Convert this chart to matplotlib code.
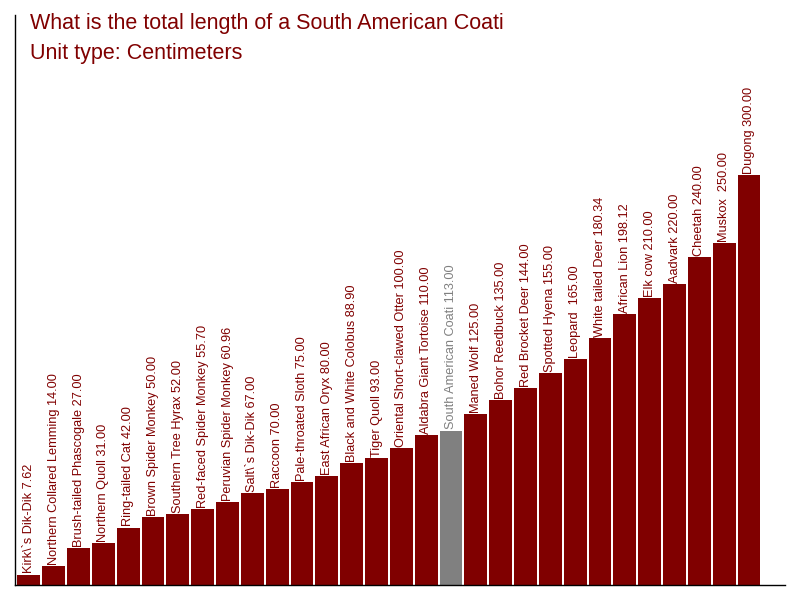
import matplotlib
matplotlib.use("Agg")
import matplotlib.pyplot as plt

plt.rcParams['font.family'] = ['Liberation Sans', 'DejaVu Sans']

names = ["Kirk\\`s Dik-Dik", "Northern Collared Lemming", "Brush-tailed Phascogale",
         "Northern Quoll", "Ring-tailed Cat", "Brown Spider Monkey", "Southern Tree Hyrax",
         "Red-faced Spider Monkey", "Peruvian Spider Monkey", "Salt\\`s Dik-Dik", "Raccoon",
         "Pale-throated Sloth", "East African Oryx", "Black and White Colobus", "Tiger Quoll",
         "Oriental Short-clawed Otter", "Aldabra Giant Tortoise", "South American Coati",
         "Maned Wolf", "Bohor Reedbuck", "Red Brocket Deer", "Spotted Hyena", "Leopard ",
         "White tailed Deer", "African Lion", "Elk cow", "Aadvark", "Cheetah", "Muskox ",
         "Dugong"]
values = [7.62, 14.00, 27.00, 31.00, 42.00, 50.00, 52.00, 55.70, 60.96, 67.00, 70.00,
          75.00, 80.00, 88.90, 93.00, 100.00, 110.00, 113.00, 125.00, 135.00, 144.00,
          155.00, 165.00, 180.34, 198.12, 210.00, 220.00, 240.00, 250.00, 300.00]
highlight = "South American Coati"

title = "What is the total length of a South American Coati"
subtitle = "Unit type: Centimeters"

main_color = "#800000"
hi_color = "#808080"

fig = plt.figure(figsize=(8, 6), dpi=100)
ax = fig.add_axes([15/800, 15/600, 770/800, 570/600])

x = list(range(len(values)))
colors = [hi_color if n == highlight else main_color for n in names]
ax.bar(x, values, width=0.92, color=colors)

for xi, n, v, c in zip(x, names, values, colors):
    ax.text(xi, v + 0.8, f"{n} {v:.2f}", rotation=90, ha='center', va='bottom',
            fontsize=9.2, color=c)

ax.set_xlim(-0.56, 30.45)
ax.set_ylim(0, 417)
ax.set_xticks([])
ax.set_yticks([])
ax.spines['top'].set_visible(False)
ax.spines['right'].set_visible(False)
for s in ('left', 'bottom'):
    ax.spines[s].set_color('black')
    ax.spines[s].set_linewidth(1)

fig.text(30/800, 1 - 29/600, title, fontsize=15.5, color=main_color, ha='left', va='baseline')
fig.text(30/800, 1 - 59/600, subtitle, fontsize=15.5, color=main_color, ha='left', va='baseline')

fig.savefig("out.png", dpi=100)
